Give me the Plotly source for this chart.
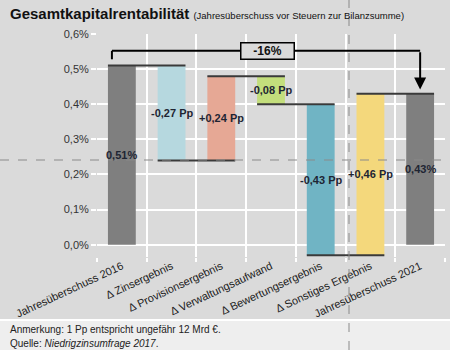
import plotly.graph_objects as go

# ---- data ----
categories = ["Jahresüberschuss 2016", "Δ Zinsergebnis", "Δ Provisionsergebnis",
              "Δ Verwaltungsaufwand", "Δ Bewertungsergebnis", "Δ Sonstiges Ergebnis",
              "Jahresüberschuss 2021"]
measures = ["absolute", "relative", "relative", "relative", "relative", "relative", "total"]
values = [0.51, -0.27, 0.24, -0.08, -0.43, 0.46, 0.43]
bar_colors = ["#7f7f7f", "#b6d8df", "#e6a895", "#c3de7c", "#70b4c4", "#f4d87c", "#7f7f7f"]
y_tick_vals = [0.0, 0.1, 0.2, 0.3, 0.4, 0.5, 0.6]
y_tick_text = ["0,0%", "0,1%", "0,2%", "0,3%", "0,4%", "0,5%", "0,6%"]

# ---- derived waterfall geometry ----
bases, heights, levels = [], [], []
cum = 0.0
for m, v in zip(measures, values):
    if m == "absolute":
        cum = v
        bases.append(0.0); heights.append(v)
    elif m == "relative":
        start = cum
        cum = cum + v
        bases.append(min(start, cum)); heights.append(abs(v))
    else:
        bases.append(0.0); heights.append(cum)
    levels.append(cum)

def fmt(v, m):
    s = f"{abs(v):.2f}".replace(".", ",")
    if m == "relative":
        return ("+" if v > 0 else "-") + s + " Pp"
    return s + "%"

labels = [fmt(v, m) for v, m in zip(values, measures)]
change_pct = (levels[-1] - levels[0]) / levels[0]

W, H = 450, 350
L, R, T, B = 97, 5, 34, 93
BG = "#dadada"
FONT = "Arial, Liberation Sans, sans-serif"

fig = go.Figure()
fig.add_trace(go.Bar(
    x=categories, y=heights, base=bases,
    marker=dict(color=bar_colors, line=dict(width=0)),
    hoverinfo="skip", showlegend=False,
))

half = 0.28
# connector lines
for i in range(len(categories) - 1):
    fig.add_shape(type="line", xref="x", yref="y",
                  x0=i - half, x1=i + 1 + half, y0=levels[i], y1=levels[i],
                  line=dict(color="#3a3a3a", width=2))

# value labels in bar centres
for i, (c, b, h, t) in enumerate(zip(categories, bases, heights, labels)):
    fig.add_annotation(x=i, y=b + h / 2, text=f"<b>{t}</b>", showarrow=False,
                       font=dict(family=FONT, size=11, color="#1e2533"))

# bracket with arrow showing overall change
top_y = max(levels[0], levels[-1]) + 0.042
fig.add_shape(type="line", xref="x", yref="y", x0=-0.2, x1=-0.2,
              y0=levels[0] + 0.018, y1=top_y, line=dict(color="black", width=2))
fig.add_shape(type="line", xref="x", yref="y", x0=-0.2, x1=len(categories) - 1,
              y0=top_y, y1=top_y, line=dict(color="black", width=2))
fig.add_annotation(x=len(categories) - 1, y=levels[-1] + 0.012,
                   ax=len(categories) - 1, ay=top_y, axref="x", ayref="y",
                   showarrow=True, arrowhead=2, arrowsize=1.2, arrowwidth=2,
                   arrowcolor="black", text="")
fig.add_annotation(x=2.92, y=top_y, text=f"<b>{change_pct*100:.0f}%</b>", showarrow=False,
                   font=dict(family=FONT, size=12, color="#111"),
                   bgcolor=BG, bordercolor="black", borderwidth=1.5,
                   width=50, height=13, borderpad=1)

# paper helpers for decoration (pixel -> paper)
pw, ph = W - L - R, H - T - B
def px(x): return (x - L) / pw
def py(y): return (H - B - y) / ph

# footer band
fig.add_shape(type="rect", xref="paper", yref="paper", layer="below",
              x0=px(0), x1=px(W), y0=py(H), y1=py(321),
              fillcolor="#eeeeee", line=dict(width=0))
fig.add_shape(type="line", xref="paper", yref="paper", layer="below",
              x0=px(0), x1=px(W), y0=py(320), y1=py(320),
              line=dict(color="white", width=2))
# guide lines
fig.add_shape(type="line", xref="paper", yref="paper",
              x0=px(0), x1=px(W), y0=py(160), y1=py(160),
              line=dict(color="#8a8a8a", width=1, dash="dash"))
fig.add_shape(type="line", xref="paper", yref="paper",
              x0=px(349), x1=px(349), y0=py(H), y1=py(0),
              line=dict(color="#8a8a8a", width=1, dash="dash"))

fig.add_annotation(xref="paper", yref="paper", x=px(8), y=py(329), xanchor="left",
                   yanchor="middle", showarrow=False,
                   text="Anmerkung: 1 Pp entspricht ungefähr 12 Mrd €.",
                   font=dict(family=FONT, size=10, color="#222"))
fig.add_annotation(xref="paper", yref="paper", x=px(8), y=py(343), xanchor="left",
                   yanchor="middle", showarrow=False,
                   text="Quelle: <i>Niedrigzinsumfrage 2017</i>.",
                   font=dict(family=FONT, size=10, color="#222"))

fig.update_layout(
    width=W, height=H,
    margin=dict(l=L, r=R, t=T, b=B),
    paper_bgcolor=BG, plot_bgcolor=BG,
    separators=",.",
    bargap=0.44,
    font=dict(family=FONT, size=11, color="#333"),
    title=dict(
        text="<b>Gesamtkapitalrentabilität</b> <span style='font-size:9.5px'>(Jahresüberschuss vor Steuern zur Bilanzsumme)</span>",
        x=10 / W, xanchor="left", y=1 - 14 / H, yanchor="middle",
        font=dict(family=FONT, size=15, color="#111"),
    ),
    xaxis=dict(
        type="category", tickson="boundaries", showgrid=True, gridcolor="white",
        gridwidth=2, ticks="outside", tickcolor="white", ticklen=4, tickwidth=2,
        tickangle=-25, showline=False, zeroline=False,
        tickfont=dict(family=FONT, size=11, color="#222"),
        range=[-0.5, len(categories) - 0.5],
    ),
    yaxis=dict(
        range=[-0.035, 0.6], tickmode="array", tickvals=y_tick_vals, ticktext=y_tick_text,
        showgrid=True, gridcolor="white", gridwidth=2, zeroline=False,
        ticks="outside", tickcolor="white", ticklen=5, tickwidth=2,
        tickfont=dict(family=FONT, size=11, color="#333"),
    ),
)

fig.write_html("out.html")
